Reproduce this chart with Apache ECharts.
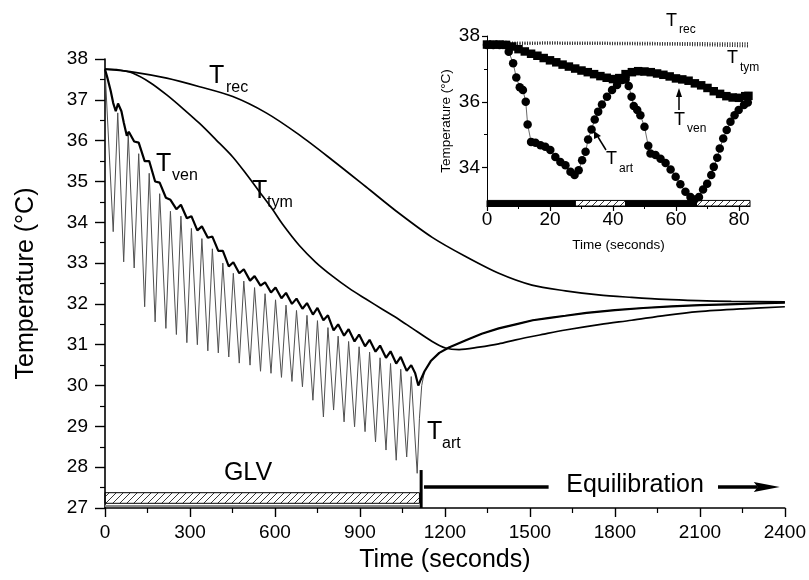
<!DOCTYPE html>
<html><head><meta charset="utf-8">
<script src="https://cdn.jsdelivr.net/npm/echarts@6/dist/echarts.min.js"></script>
<style>html,body{margin:0;padding:0;background:#fff}#c{width:809px;height:580px}</style>
</head><body><div id="c"></div>
<script>
// ---------- main chart data (time s, temperature °C) ----------
const tRec = [[0,37.75],[100,37.68],[218,37.53],[334,37.32],[451,37.08],[569,36.68],[686,36.14],[803,35.52],[921,34.87],[1038,34.22],[1155,33.63],[1273,33.16],[1390,32.75],[1507,32.46],[1625,32.32],[1742,32.22],[1859,32.16],[1977,32.11],[2094,32.08],[2211,32.06],[2400,32.05]];
const tTym = [[0,37.75],[50,37.73],[99,37.65],[160,37.42],[218,37.12],[276,36.78],[334,36.42],[392,36.02],[451,35.6],[500,35.17],[545,34.75],[590,34.33],[627,33.95],[686,33.43],[744,33.02],[803,32.68],[862,32.38],[921,32.12],[979,31.87],[1038,31.62],[1085,31.4],[1155,31.08],[1202,30.92],[1250,30.88],[1320,30.94],[1390,31.02],[1450,31.12],[1550,31.26],[1625,31.36],[1750,31.5],[1859,31.6],[1980,31.72],[2094,31.81],[2250,31.88],[2400,31.93]];
const tVen = [[0,37.75],[8,37.55],[20,37.22],[29,36.92],[38,36.72],[46,36.91],[58,36.72],[66,36.45],[77,36.12],[84,36.22],[103,35.98],[119,35.95],[140,35.5],[156,35.5],[177,35.0],[193,34.97],[215,34.6],[231,34.55],[252,34.32],[268,34.43],[289,34.1],[305,34.15],[326,33.8],[342,33.9],[363,33.62],[379,33.65],[400,33.3],[416,33.3],[437,32.92],[453,33.02],[474,32.75],[490,32.85],[512,32.57],[528,32.68],[549,32.45],[565,32.53],[586,32.28],[602,32.4],[623,32.14],[639,32.27],[660,32.0],[676,32.13],[697,31.88],[713,32.02],[734,31.74],[750,31.9],[771,31.6],[787,31.72],[807,31.35],[823,31.5],[844,31.22],[860,31.38],[881,31.08],[897,31.25],[918,30.96],[934,31.12],[955,30.83],[971,30.98],[992,30.68],[1008,30.84],[1028,30.54],[1044,30.7],[1065,30.36],[1081,30.5],[1095,30.3],[1106,30.0],[1115,30.15],[1128,30.35],[1150,30.6],[1180,30.8],[1214,30.93],[1274,31.11],[1330,31.27],[1390,31.4],[1450,31.5],[1510,31.6],[1570,31.66],[1625,31.71],[1700,31.78],[1800,31.85],[1900,31.9],[2000,31.94],[2100,31.97],[2200,31.99],[2300,32.01],[2400,32.03]];
const tArt = [[0,37.75],[6,37.73],[29,33.77],[45,36.68],[66,33.03],[82,36.15],[103,32.88],[119,35.68],[140,31.93],[156,35.2],[177,31.56],[193,34.7],[215,31.4],[231,34.27],[252,31.25],[268,34.15],[289,31.05],[305,33.85],[326,31.0],[342,33.6],[363,30.85],[379,33.35],[400,30.8],[416,33.0],[437,30.7],[453,32.75],[474,30.55],[490,32.56],[512,30.5],[528,32.4],[549,30.35],[565,32.25],[586,30.3],[602,32.1],[623,30.2],[639,31.97],[660,30.1],[676,31.84],[697,29.97],[713,31.72],[734,29.64],[750,31.59],[771,29.23],[787,31.42],[807,29.4],[823,31.21],[844,29.11],[860,31.08],[881,28.99],[897,30.95],[918,28.87],[934,30.82],[955,28.62],[971,30.68],[992,28.42],[1008,30.54],[1028,28.17],[1044,30.4],[1065,28.25],[1081,30.22],[1102,27.85],[1110,29.2],[1118,30.0],[1128,30.35],[1150,30.6],[1180,30.8],[1214,30.93],[1274,31.11],[1330,31.27],[1390,31.4],[1450,31.5],[1510,31.6],[1570,31.66],[1625,31.71],[1700,31.78],[1800,31.85],[1900,31.9],[2000,31.94],[2100,31.97],[2200,31.99],[2300,32.01],[2400,32.03]];
// GLV period bar: [start, end]
const glvPeriod = [[0, 1110]];

// ---------- inset data (first 83 s) ----------
const inRec = [[0,37.79],[20,37.8],[40,37.79],[60,37.78],[83,37.77]];
const inTym = [[0,37.76],[20,37.77],[40,37.76],[60,37.74],[75,37.71],[83,37.69]];
const inVen = [[0,37.74],[2,37.74],[4,37.74],[6,37.73],[8,37.68],[10,37.6],[12,37.53],[14,37.46],[16,37.4],[18,37.33],[20,37.26],[22,37.2],[24,37.13],[26,37.07],[28,37.01],[30,36.95],[32,36.9],[34,36.84],[36,36.78],[38,36.73],[40,36.69],[42,36.72],[44,36.84],[46,36.9],[48,36.93],[50,36.92],[52,36.9],[54,36.86],[56,36.82],[58,36.77],[60,36.71],[62,36.68],[64,36.64],[66,36.56],[68,36.5],[70,36.42],[72,36.32],[74,36.24],[76,36.17],[78,36.13],[80,36.12],[82,36.17],[83,36.18]];
const inArt = [[0,37.73],[2,37.73],[4,37.73],[6,37.73],[6.9,37.52],[8.3,37.17],[9.3,36.74],[10.4,36.44],[11.4,36.36],[12.3,36.0],[12.9,35.31],[14,34.78],[15.4,34.75],[17,34.68],[18.5,34.63],[20.1,34.53],[21.7,34.32],[23.3,34.17],[24.9,34.07],[26.5,33.87],[27.8,33.77],[29.1,33.92],[30.2,34.22],[31.3,34.48],[32.1,34.85],[33.2,35.16],[34.2,35.46],[35.3,35.7],[36.5,35.92],[38.1,36.15],[39.7,36.36],[41.3,36.51],[42.9,36.66],[44,36.68],[45,36.48],[45.9,36.15],[46.6,35.87],[47.7,35.75],[48.7,35.59],[50,35.24],[51.2,34.66],[51.9,34.43],[53.5,34.38],[55.1,34.27],[56.7,34.14],[58.3,33.94],[59.9,33.72],[61.4,33.49],[63,33.26],[64.6,33.1],[65.9,33.03],[67.3,33.1],[68.6,33.33],[69.9,33.51],[71.2,33.77],[72,34.02],[73.1,34.3],[73.9,34.58],[75,34.88],[76.1,35.14],[77.3,35.39],[78.6,35.59],[79.9,35.75],[81.6,35.9],[82.8,35.98]];
// phases: [start, end, cooling(1)/rewarming(0)]
const inPhases = [[0,28,1],[28,44,0],[44,66.5,1],[66.5,83.5,0]];
const inXTicks = [0,20,40,60,80];
const inXMinor = [10,30,50,70];
const inYTicks = [34,36,38];
const inYMinor = [35,37];

// ---------- rendering ----------
const FF = '"Liberation Sans", Arial, Helvetica, sans-serif';
function makeHatch(){
  const c = document.createElement('canvas'); c.width = 7; c.height = 7;
  const g = c.getContext('2d'); g.strokeStyle = '#222'; g.lineWidth = 0.9;
  g.beginPath(); g.moveTo(0,7); g.lineTo(7,0); g.moveTo(-1,1); g.lineTo(1,-1); g.moveTo(6,8); g.lineTo(8,6); g.stroke();
  return c;
}
const hatch = {image: makeHatch(), repeat: 'repeat'};
const chart = echarts.init(document.getElementById('c'));
const plain = v => String(v);

const option = {
  animation:false,
  backgroundColor:'#fff',
  grid:[
    {left:105, top:59, width:682, height:449},
    {left:487, top:36, width:263, height:170}
  ],
  xAxis:[
    {type:'value', gridIndex:0, min:0, max:2400, interval:300, splitLine:{show:false},
      axisLine:{lineStyle:{color:'#000',width:1.6}},
      axisTick:{length:9, lineStyle:{color:'#000',width:1.4}},
      minorTick:{show:true, splitNumber:2, length:5, lineStyle:{color:'#000',width:1.2}},
      axisLabel:{color:'#000',fontFamily:FF,fontSize:19,margin:15,formatter:plain},
      name:'Time (seconds)', nameLocation:'middle', nameGap:40,
      nameTextStyle:{color:'#000',fontFamily:FF,fontSize:25}},
    {type:'value', gridIndex:1, min:0, max:83.5, splitLine:{show:false},
      axisLine:{lineStyle:{color:'#000',width:1.2}},
      axisTick:{length:5, customValues:inXTicks, lineStyle:{color:'#000',width:1.2}},
      axisLabel:{color:'#000',fontFamily:FF,fontSize:19,margin:4, customValues:inXTicks, formatter:plain},
      name:'Time (seconds)', nameLocation:'middle', nameGap:32,
      nameTextStyle:{color:'#000',fontFamily:FF,fontSize:13.5}},
    {type:'value', gridIndex:1, min:0, max:83.5, position:'bottom',
      axisLine:{show:false}, axisLabel:{show:false}, splitLine:{show:false},
      axisTick:{length:3, customValues:inXMinor, lineStyle:{color:'#000',width:1}}}
  ],
  yAxis:[
    {type:'value', gridIndex:0, min:27, max:38, interval:1, splitLine:{show:false},
      axisLine:{lineStyle:{color:'#000',width:1.6}},
      axisTick:{length:10, lineStyle:{color:'#000',width:1.4}},
      minorTick:{show:true, splitNumber:2, length:5, lineStyle:{color:'#000',width:1.2}},
      axisLabel:{color:'#000',fontFamily:FF,fontSize:19,margin:17,formatter:plain},
      name:'Temperature (°C)', nameLocation:'middle', nameGap:66,
      nameTextStyle:{color:'#000',fontFamily:FF,fontSize:25}},
    {type:'value', gridIndex:1, min:32.83, max:38, splitLine:{show:false},
      axisLine:{lineStyle:{color:'#000',width:1}},
      axisTick:{length:5, customValues:inYTicks, lineStyle:{color:'#000',width:1.2}},
      axisLabel:{color:'#000',fontFamily:FF,fontSize:19,margin:7, customValues:inYTicks, formatter:plain},
      name:'Temperature (°C)', nameLocation:'middle', nameGap:34,
      nameTextStyle:{color:'#000',fontFamily:FF,fontSize:13.5}},
    {type:'value', gridIndex:1, min:32.83, max:38, position:'left',
      axisLine:{show:false}, axisLabel:{show:false}, splitLine:{show:false},
      axisTick:{length:3, customValues:inYMinor, lineStyle:{color:'#000',width:1}}}
  ],
  series:[
    {type:'line', name:'Tart', xAxisIndex:0, yAxisIndex:0, data:tArt, symbol:'none',
      lineStyle:{color:'#505050', width:1}, z:2},
    {type:'line', name:'Tven', xAxisIndex:0, yAxisIndex:0, data:tVen, symbol:'none',
      lineStyle:{color:'#000', width:2.2}, z:3},
    {type:'line', name:'Trec', xAxisIndex:0, yAxisIndex:0, data:tRec, smooth:0.3, symbol:'none',
      lineStyle:{color:'#000', width:1.7}, z:3},
    {type:'line', name:'Ttym', xAxisIndex:0, yAxisIndex:0, data:tTym, smooth:0.3, symbol:'none',
      lineStyle:{color:'#000', width:1.7}, z:3},
    // GLV bar + end marker
    {type:'custom', xAxisIndex:0, yAxisIndex:0, data:glvPeriod, silent:true, z:4,
      renderItem(p, api){
        const a = api.coord([api.value(0), 27.375]);
        const b = api.coord([api.value(1), 27.115]);
        const g0 = api.coord([api.value(0), 27.05]);
        const g1 = api.coord([api.value(1), 27.05]);
        const v0 = api.coord([api.value(1)+6, 27]);
        const v1 = api.coord([api.value(1)+6, 27.93]);
        return {type:'group', children:[
          {type:'line', shape:{x1:g0[0], y1:g0[1], x2:g1[0], y2:g1[1]}, style:{stroke:'#888', lineWidth:2}},
          {type:'rect', shape:{x:a[0], y:a[1], width:b[0]-a[0], height:b[1]-a[1]}, style:{fill:hatch, stroke:'#000', lineWidth:1}},
          {type:'line', shape:{x1:v0[0], y1:v0[1], x2:v1[0], y2:v1[1]}, style:{stroke:'#000', lineWidth:3}}
        ]};
      }},
    // Equilibration arrow
    {type:'custom', xAxisIndex:0, yAxisIndex:0, data:glvPeriod, silent:true, z:4,
      renderItem(p, api){
        const y = 27.515;
        const a = api.coord([api.value(1)+16, y]);
        const b = api.coord([1566, y]);
        const c = api.coord([2164, y]);
        const d = api.coord([2382, y]);
        return {type:'group', children:[
          {type:'line', shape:{x1:a[0], y1:a[1], x2:b[0], y2:b[1]}, style:{stroke:'#000', lineWidth:3.5}},
          {type:'line', shape:{x1:c[0], y1:c[1], x2:d[0]-22, y2:d[1]}, style:{stroke:'#000', lineWidth:3.5}},
          {type:'polygon', shape:{points:[[d[0]-26,d[1]-5],[d[0],d[1]],[d[0]-26,d[1]+5],[d[0]-22,d[1]]]}, style:{fill:'#000'}}
        ]};
      }},
    // inset
    {type:'custom', xAxisIndex:1, yAxisIndex:1, data:inPhases, silent:true, z:2,
      renderItem(p, api){
        const a = api.coord([api.value(0), 33.0]);
        const b = api.coord([api.value(1), 32.83]);
        const solid = api.value(2) === 1;
        return {type:'rect', shape:{x:a[0], y:a[1], width:b[0]-a[0], height:b[1]-a[1]},
          style:{fill: solid ? '#000' : hatch, stroke:'#000', lineWidth:1}};
      }},
    {type:'line', xAxisIndex:1, yAxisIndex:1, data:inRec, symbol:'none', lineStyle:{color:'#333', width:2.5, type:[1,1.5]}, z:3},
    {type:'line', xAxisIndex:1, yAxisIndex:1, data:inTym, symbol:'none', lineStyle:{color:'#333', width:2.5, type:[1,1.5]}, z:3},
    {type:'line', xAxisIndex:1, yAxisIndex:1, data:inVen, symbol:'rect', symbolSize:8.5, showSymbol:true,
      itemStyle:{color:'#000'}, lineStyle:{color:'#000', width:1}, z:4},
    {type:'line', xAxisIndex:1, yAxisIndex:1, data:inArt, symbol:'circle', symbolSize:8.5, showSymbol:true,
      itemStyle:{color:'#000'}, lineStyle:{color:'#444', width:0.8}, z:5}
  ]
};
chart.setOption(option);

// ---------- text annotations ----------
function txt(x, y, s, size, align){
  return {type:'text', x:x, y:y, style:{text:s, font:size+'px '+FF, fill:'#000', align:align||'left', verticalAlign:'middle'}};
}
function tLabel(x, cy, sub, big, small, dx, dy){
  return [txt(x, cy, 'T', big), txt(x + dx, cy + dy, sub, small)];
}
const g = [].concat(
  tLabel(209, 76, 'rec', 25, 16, 17, 12),
  tLabel(156, 164, 'ven', 25, 16, 16, 12),
  tLabel(252, 191, 'tym', 25, 16, 15, 12),
  tLabel(427, 432, 'art', 25, 16, 15, 12),
  tLabel(666, 21, 'rec', 18, 12, 13, 9),
  tLabel(727, 58, 'tym', 18, 12, 13, 10),
  tLabel(674, 120, 'ven', 18, 12, 13, 9),
  tLabel(606, 159, 'art', 18, 12, 13, 10),
  [
    txt(248, 473, 'GLV', 25, 'center'),
    txt(635, 485, 'Equilibration', 25, 'center'),
    {type:'line', shape:{x1:679, y1:110, x2:679, y2:94}, style:{stroke:'#000', lineWidth:1.5}},
    {type:'polygon', shape:{points:[[676,97],[679,88],[682,97]]}, style:{fill:'#000'}},
    {type:'line', shape:{x1:606, y1:150, x2:598, y2:137}, style:{stroke:'#000', lineWidth:1.5}},
    {type:'polygon', shape:{points:[[594,139],[594,131],[601,136]]}, style:{fill:'#000'}}
  ]
);
chart.setOption({graphic:g});
</script>
</body></html>
